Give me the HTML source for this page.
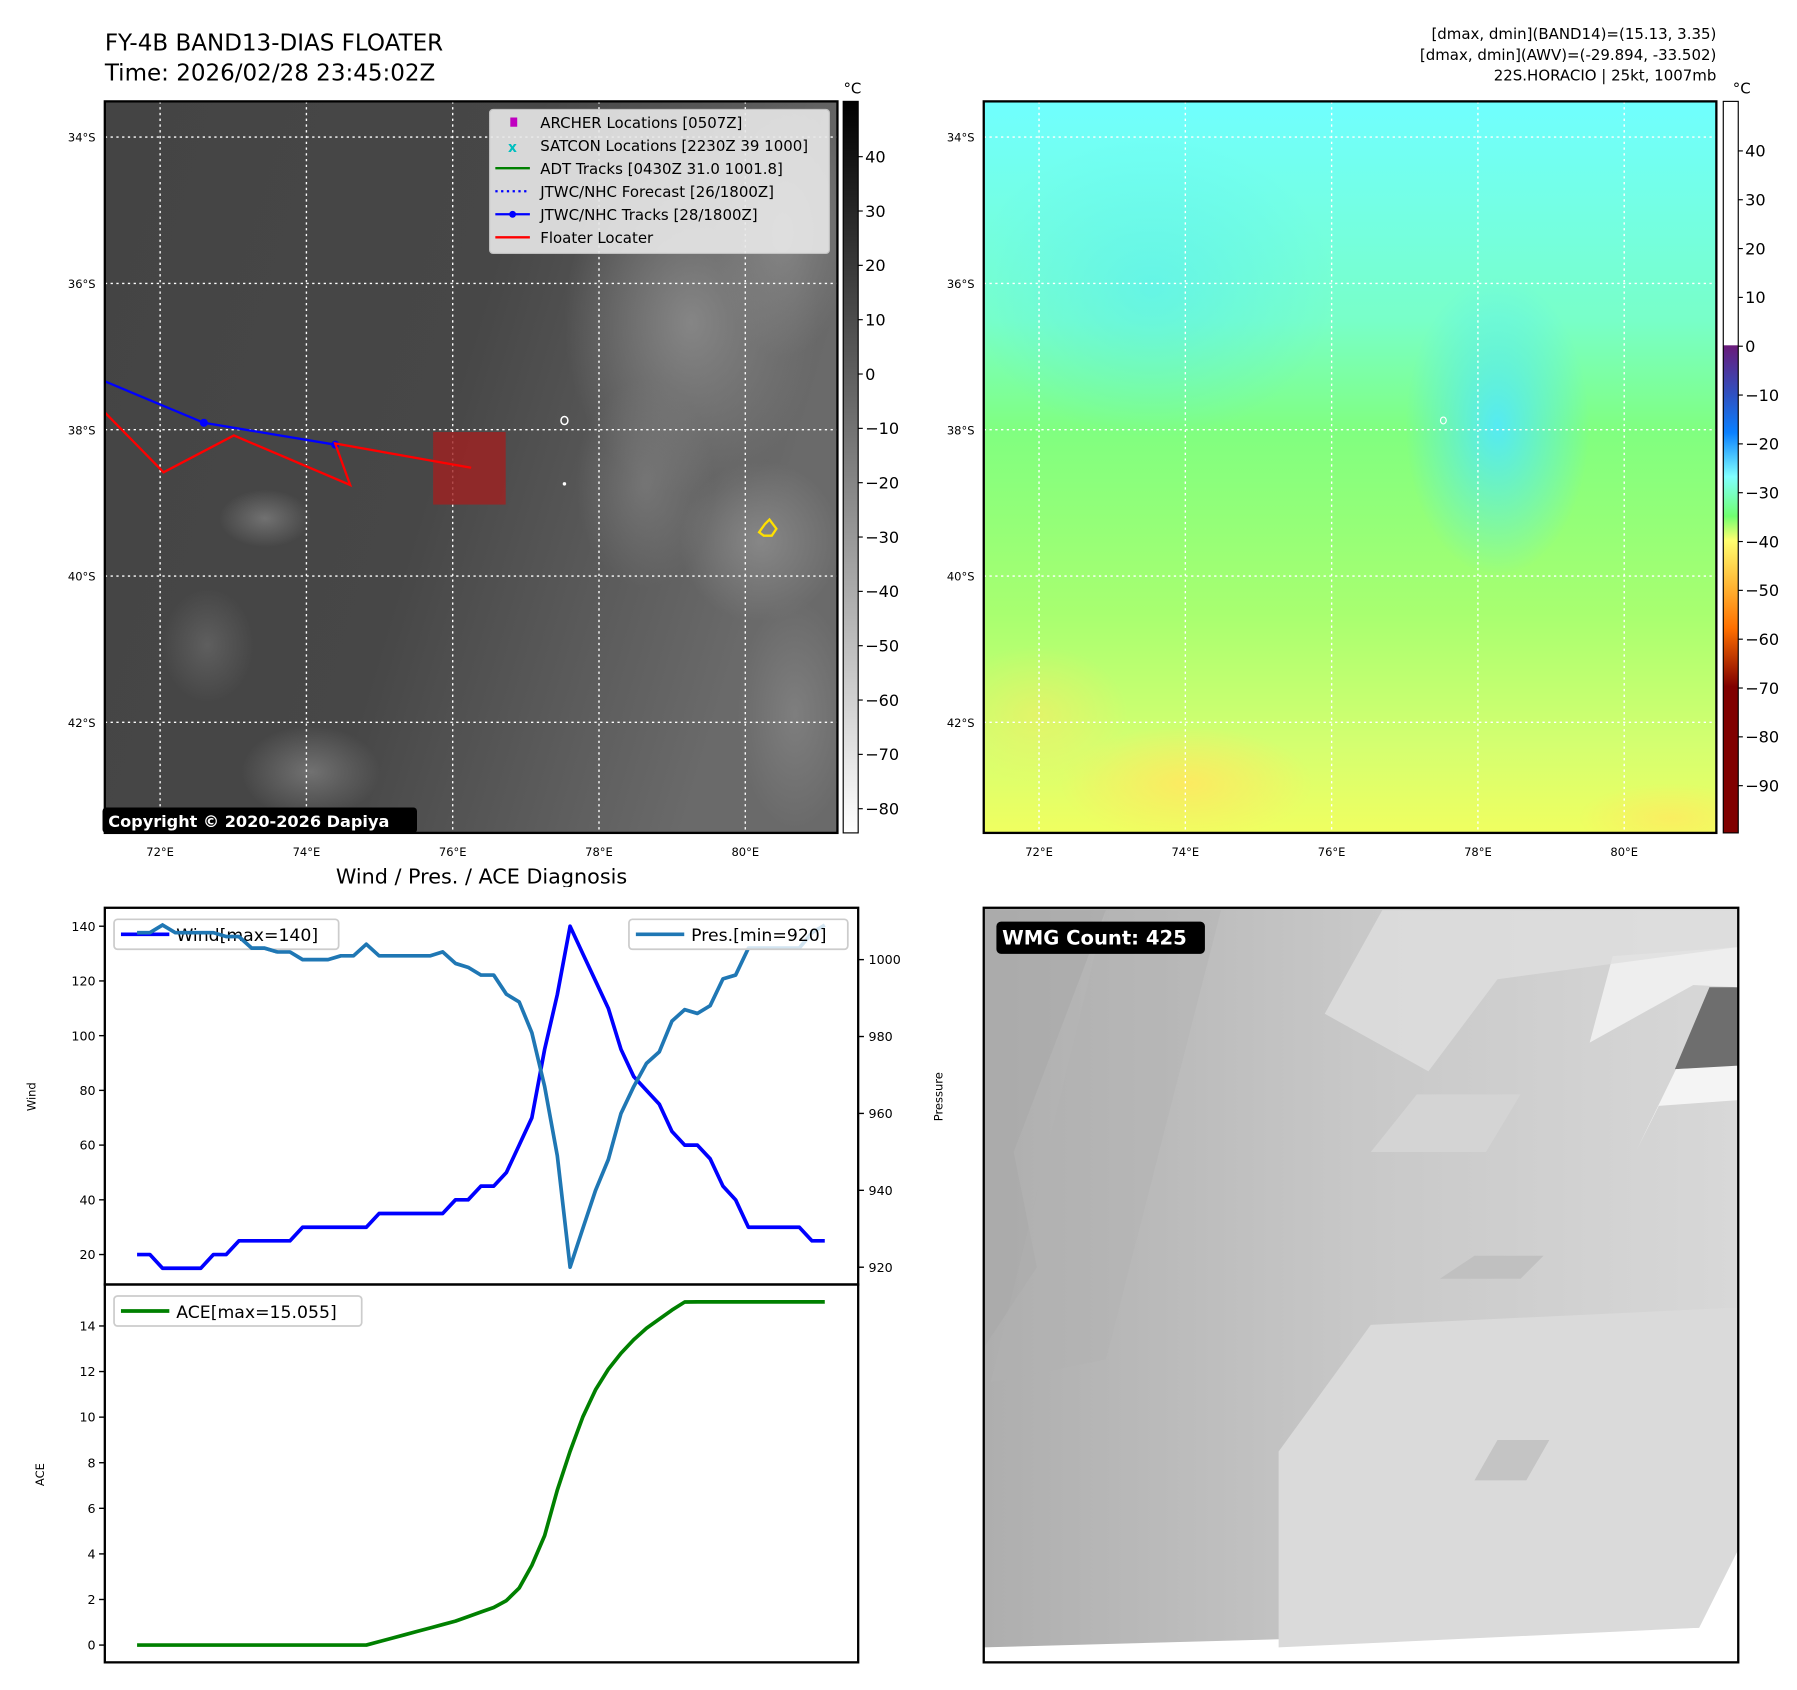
<!DOCTYPE html>
<html><head><meta charset="utf-8"><style>
html,body{margin:0;padding:0;background:#fff;}
svg{display:block;font-family:"DejaVu Sans","Liberation Sans",sans-serif;}
</style></head><body>
<svg id="fig" width="1797" height="1690" viewBox="0 0 1560 1467" preserveAspectRatio="none" xmlns="http://www.w3.org/2000/svg">
<defs>
  <linearGradient id="gcbar" x1="0" y1="0" x2="0" y2="1">
    <stop offset="0" stop-color="#000"/><stop offset="1" stop-color="#fff"/>
  </linearGradient>
  <linearGradient id="ccbar" x1="0" y1="0" x2="0" y2="1">
    <stop offset="0" stop-color="#fff"/><stop offset="0.333" stop-color="#fff"/>
    <stop offset="0.334" stop-color="#6a1b7a"/><stop offset="0.40" stop-color="#3050c0"/>
    <stop offset="0.453" stop-color="#0a80ff"/><stop offset="0.513" stop-color="#80ffff"/>
    <stop offset="0.567" stop-color="#70ff70"/><stop offset="0.60" stop-color="#ffff70"/>
    <stop offset="0.667" stop-color="#ffb030"/><stop offset="0.72" stop-color="#ff7000"/>
    <stop offset="0.80" stop-color="#800000"/><stop offset="1" stop-color="#800000"/>
  </linearGradient>
  <linearGradient id="irbg" x1="0" y1="0" x2="1" y2="0.3">
    <stop offset="0" stop-color="#444"/><stop offset="0.55" stop-color="#474747"/><stop offset="1" stop-color="#6a6a6a"/>
  </linearGradient>
  <radialGradient id="cloud"><stop offset="0" stop-color="#8a8a8a" stop-opacity="0.9"/><stop offset="1" stop-color="#8a8a8a" stop-opacity="0"/></radialGradient>
  <linearGradient id="colbg" x1="0" y1="0" x2="0" y2="1">
    <stop offset="0" stop-color="#70ffff"/><stop offset="0.3" stop-color="#78ffc8"/>
    <stop offset="0.45" stop-color="#80ff80"/><stop offset="0.7" stop-color="#a8ff70"/>
    <stop offset="0.88" stop-color="#d4ff70"/><stop offset="1" stop-color="#f0ff60"/>
  </linearGradient>
  <radialGradient id="cyanblob"><stop offset="0" stop-color="#50e8ff" stop-opacity="0.9"/><stop offset="1" stop-color="#50e8ff" stop-opacity="0"/></radialGradient>
  <radialGradient id="yelblob"><stop offset="0" stop-color="#ffe860" stop-opacity="0.9"/><stop offset="1" stop-color="#ffe860" stop-opacity="0"/></radialGradient>
  <linearGradient id="wmgbg" x1="0" y1="0" x2="1" y2="0">
    <stop offset="0" stop-color="#aeaeae"/><stop offset="0.5" stop-color="#c8c8c8"/><stop offset="1" stop-color="#d8d8d8"/>
  </linearGradient>
  <clipPath id="clipL"><rect x="91" y="88" width="636" height="635"/></clipPath>
  <clipPath id="clipR"><rect x="854" y="88" width="636" height="635"/></clipPath>
</defs>

<text x="91" y="44" font-size="20">FY-4B BAND13-DIAS FLOATER</text>
<text x="91" y="70" font-size="20">Time: 2026/02/28 23:45:02Z</text>
<g font-size="13" text-anchor="end">
  <text x="1490" y="34">[dmax, dmin](BAND14)=(15.13, 3.35)</text>
  <text x="1490" y="52">[dmax, dmin](AWV)=(-29.894, -33.502)</text>
  <text x="1490" y="70">22S.HORACIO | 25kt, 1007mb</text>
</g>

<g clip-path="url(#clipL)">
  <rect x="91" y="88" width="636" height="635" fill="url(#irbg)"/>
  <ellipse cx="600" cy="280" rx="110" ry="150" fill="url(#cloud)"/>
  <ellipse cx="680" cy="200" rx="60" ry="110" fill="url(#cloud)"/>
  <ellipse cx="660" cy="470" rx="70" ry="70" fill="url(#cloud)"/>
  <ellipse cx="560" cy="420" rx="60" ry="90" fill="url(#cloud)" opacity="0.6"/>
  <ellipse cx="690" cy="620" rx="50" ry="100" fill="url(#cloud)" opacity="0.7"/>
  <ellipse cx="230" cy="450" rx="40" ry="25" fill="url(#cloud)" opacity="0.7"/>
  <ellipse cx="270" cy="670" rx="60" ry="40" fill="url(#cloud)" opacity="0.7"/>
  <ellipse cx="180" cy="560" rx="40" ry="50" fill="url(#cloud)" opacity="0.4"/>
</g>
<g id="gridL" clip-path="url(#clipL)"></g>
<g clip-path="url(#clipL)">
  <rect x="376" y="375" width="63" height="63" fill="#a02020" opacity="0.8"/>
  <polyline points="91,331 177,367 291,386" fill="none" stroke="#00f" stroke-width="2"/>
  <circle cx="177" cy="367" r="3.5" fill="#00f"/><circle cx="291" cy="386" r="3.5" fill="#00f"/>
  <polyline points="91,358 142,410 203,378 304,421 291,385 409,406" fill="none" stroke="#f00" stroke-width="2"/>
  <ellipse cx="490" cy="365" rx="3" ry="3.5" fill="none" stroke="#fff" stroke-width="1.3"/>
  <circle cx="490" cy="420" r="1.5" fill="#fff"/>
  <path d="M659,462 L664,455 L668,451 L671,455 L674,459 L670,465 L663,465 Z" fill="none" stroke="#ffe000" stroke-width="2"/>
</g>
<rect x="91" y="88" width="636" height="635" fill="none" stroke="#000" stroke-width="2"/>
<rect x="89" y="701" width="273" height="22" rx="3" fill="#000"/>
<text x="94" y="718" font-size="14" font-weight="bold" fill="#fff">Copyright © 2020-2026 Dapiya</text>

<g font-size="13">
  <rect x="425" y="95" width="295" height="125" rx="3" fill="#e8e8e8" opacity="0.9" stroke="#ccc"/>
  <rect x="443" y="102" width="6" height="8" fill="#c000c0"/>
  <text x="469" y="111">ARCHER Locations [0507Z]</text>
  <text x="441" y="132" font-size="12" fill="#00bfbf" font-weight="bold">x</text>
  <text x="469" y="131">SATCON Locations [2230Z 39 1000]</text>
  <line x1="430" y1="146" x2="460" y2="146" stroke="green" stroke-width="2"/>
  <text x="469" y="151">ADT Tracks [0430Z 31.0 1001.8]</text>
  <line x1="430" y1="166" x2="460" y2="166" stroke="#00f" stroke-width="2" stroke-dasharray="2,3"/>
  <text x="469" y="171">JTWC/NHC Forecast [26/1800Z]</text>
  <line x1="430" y1="186" x2="460" y2="186" stroke="#00f" stroke-width="2"/><circle cx="445" cy="186" r="3" fill="#00f"/>
  <text x="469" y="191">JTWC/NHC Tracks [28/1800Z]</text>
  <line x1="430" y1="206" x2="460" y2="206" stroke="#f00" stroke-width="2"/>
  <text x="469" y="211">Floater Locater</text>
</g>

<rect x="732" y="88" width="13" height="635" fill="url(#gcbar)" stroke="#000" stroke-width="1"/>
<text x="740" y="81" font-size="13" text-anchor="middle">°C</text>
<g id="cbarL" font-size="14"></g>

<g clip-path="url(#clipR)">
  <rect x="854" y="88" width="636" height="635" fill="url(#colbg)"/>
  <ellipse cx="1300" cy="370" rx="80" ry="130" fill="url(#cyanblob)"/>
  <ellipse cx="1000" cy="250" rx="160" ry="130" fill="url(#cyanblob)" opacity="0.5"/>
  <ellipse cx="1030" cy="680" rx="110" ry="50" fill="url(#yelblob)"/>
  <ellipse cx="1450" cy="710" rx="80" ry="30" fill="url(#yelblob)" opacity="0.8"/>
  <ellipse cx="900" cy="620" rx="80" ry="60" fill="url(#yelblob)" opacity="0.5"/>
  <ellipse cx="1253" cy="365" rx="2.5" ry="3" fill="none" stroke="#fff" stroke-width="1"/>
</g>
<g id="gridR" clip-path="url(#clipR)"></g>
<rect x="854" y="88" width="636" height="635" fill="none" stroke="#000" stroke-width="2"/>
<rect x="1496" y="88" width="13" height="635" fill="url(#ccbar)" stroke="#000" stroke-width="1"/>
<text x="1512" y="81" font-size="13" text-anchor="middle">°C</text>
<g id="cbarR" font-size="14"></g>
<g id="mapTicks" font-size="10"></g>

<text x="418" y="767" font-size="18" text-anchor="middle">Wind / Pres. / ACE Diagnosis</text>
<g id="diag"></g>

<g>
  <rect x="854" y="788" width="655" height="655" fill="url(#wmgbg)"/>
  <polygon points="854,1443 854,1430 1475,1413 1509,1345 1509,1443" fill="#fff"/>
  <polygon points="1454,928 1484,857 1509,857 1509,926" fill="#6e6e6e"/>
  <polygon points="1420,1000 1440,960 1509,955 1509,925 1455,928 1420,1000" fill="#f4f4f4"/>
  <polygon points="1380,905 1470,855 1509,857 1509,822 1400,830" fill="#eeeeee"/>
  <polygon points="1150,880 1200,790 1509,790 1509,822 1300,850 1240,930" fill="#dedede" opacity="0.8"/>
  <polygon points="1110,1260 1190,1150 1509,1135 1509,1345 1475,1413 1110,1430" fill="#dadada"/>
  <polygon points="854,1170 854,790 960,790 880,1000 900,1100" fill="#a8a8a8" opacity="0.6"/>
  <polygon points="960,790 1060,790 960,1180 860,1200" fill="#b2b2b2" opacity="0.4"/>
  <polygon points="1250,1110 1280,1090 1340,1090 1320,1110" fill="#c0c0c0"/>
  <polygon points="1280,1285 1300,1250 1345,1250 1325,1285" fill="#c4c4c4"/>
  <polygon points="1190,1000 1230,950 1320,950 1290,1000" fill="#d4d4d4"/>
  <rect x="854" y="788" width="655" height="655" fill="none" stroke="#000" stroke-width="2"/>
  <rect x="865" y="800" width="181" height="28" rx="4" fill="#000"/>
  <text x="870" y="820" font-size="17" font-weight="bold" fill="#fff">WMG Count: 425</text>
</g>
</svg>
<script>
const windValues = [20,20,15,15,15,15,20,20,25,25,25,25,25,30,30,30,30,30,30,35,35,35,35,35,35,40,40,45,45,50,60,70,95,115,140,130,120,110,95,85,80,75,65,60,60,55,45,40,30,30,30,30,30,25,25];
const presValues = [1007,1007,1009,1007,1007,1007,1007,1006,1006,1003,1003,1002,1002,1000,1000,1000,1001,1001,1004,1001,1001,1001,1001,1001,1002,999,998,996,996,991,989,981,967,949,920,930,940,948,960,967,973,976,984,987,986,988,995,996,1003,1003,1003,1003,1003,1007,1009];
const aceValues = [0,0,0,0,0,0,0,0,0,0,0,0,0,0,0,0,0,0,0,0.15,0.3,0.45,0.6,0.75,0.9,1.05,1.25,1.45,1.65,1.95,2.5,3.5,4.8,6.8,8.5,10,11.2,12.1,12.8,13.4,13.9,14.3,14.7,15.05,15.055,15.055,15.055,15.055,15.055,15.055,15.055,15.055,15.055,15.055,15.055];
const windTicks = [20,40,60,80,100,120,140];
const presTicks = [920,940,960,980,1000];
const aceTicks = [0,2,4,6,8,10,12,14];
const lonTicks = [72,74,76,78,80];
const latTicks = [34,36,38,40,42];
const irCbarTicks = [40,30,20,10,0,-10,-20,-30,-40,-50,-60,-70,-80];
const awvCbarTicks = [40,30,20,10,0,-10,-20,-30,-40,-50,-60,-70,-80,-90];

const NS='http://www.w3.org/2000/svg';
function mk(tag, attrs, parent){const e=document.createElementNS(NS,tag);for(const k in attrs)e.setAttribute(k,attrs[k]);parent.appendChild(e);return e;}

const xIdx = i => 119 + i*(716-119)/(windValues.length-1);
const yWind = v => 1089 + (v-20)*(804-1089)/120;
const yPres = v => 1100 + (v-920)*(833-1100)/80;
const yAce = v => 1428 + v*(1151-1428)/14;
const xLon = lon => 139 + (lon-72)*63.5;
const yLat = lat => 119 + (lat-34)*63.5;
const yIr = v => 136 + (40-v)*(702-136)/120;
const yAwv = v => 131 + (40-v)*(682-131)/130;

const gL=document.getElementById('gridL'), gR=document.getElementById('gridR'), mt=document.getElementById('mapTicks');
[[gL,91,727],[gR,854,1490]].forEach(([g,x0,x1])=>{
  const off = x0-91;
  lonTicks.forEach(lon=>{
    const ln=mk('line',{x1:xLon(lon)+off,x2:xLon(lon)+off,y1:88,y2:723,stroke:'#fff','stroke-width':1.2,'stroke-dasharray':'2,3'},g);
    
    
    const t=mk('text',{x:xLon(lon)+off,y:743,'text-anchor':'middle'},mt);t.textContent=lon+'°E';
    
    
  });
  latTicks.forEach(lat=>{
    const ln=mk('line',{x1:x0,x2:x1,y1:yLat(lat),y2:yLat(lat),stroke:'#fff','stroke-width':1.2,'stroke-dasharray':'2,3'},g);
    
    
    const t=mk('text',{x:x0-8,y:yLat(lat)+4,'text-anchor':'end'},mt);t.textContent=lat+'°S';
    
    
  });
});
const cL=document.getElementById('cbarL');
irCbarTicks.forEach(v=>{
  mk('line',{x1:745,x2:749,y1:yIr(v),y2:yIr(v),stroke:'#000'},cL);
  const t=mk('text',{x:751,y:yIr(v)+5},cL);t.textContent=(v<0?'\u2212':'')+Math.abs(v);
  
  
});
const cR=document.getElementById('cbarR');
awvCbarTicks.forEach(v=>{
  mk('line',{x1:1509,x2:1513,y1:yAwv(v),y2:yAwv(v),stroke:'#000'},cR);
  const t=mk('text',{x:1515,y:yAwv(v)+5},cR);t.textContent=(v<0?'\u2212':'')+Math.abs(v);
  
  
});

const d=document.getElementById('diag');
mk('rect',{x:91,y:788,width:654,height:655,fill:'#fff'},d);
function pts(arr,fy){return arr.map((v,i)=>xIdx(i).toFixed(1)+','+fy(v).toFixed(1)).join(' ');}
const wl=mk('polyline',{points:pts(windValues,yWind),fill:'none',stroke:'#0000ff','stroke-width':3.2,'stroke-linejoin':'round'},d);


const pl=mk('polyline',{points:pts(presValues,yPres),fill:'none',stroke:'#1f77b4','stroke-width':3.2,'stroke-linejoin':'round'},d);


const al=mk('polyline',{points:pts(aceValues,yAce),fill:'none',stroke:'#008000','stroke-width':3.2,'stroke-linejoin':'round'},d);


mk('rect',{x:91,y:770,width:654,height:17,fill:'#fff'},d);
mk('rect',{x:91,y:788,width:654,height:327,fill:'none',stroke:'#000','stroke-width':2},d);
mk('rect',{x:91,y:1115,width:654,height:328,fill:'none',stroke:'#000','stroke-width':2},d);
function ytick(v,fy,left,label){
  const y=fy(v);
  if(left){mk('line',{x1:86,x2:91,y1:y,y2:y,stroke:'#000','stroke-width':1.2},d);}
  else{mk('line',{x1:745,x2:750,y1:y,y2:y,stroke:'#000','stroke-width':1.2},d);}
  const t=mk('text',{x:left?83:754,y:y+4,'font-size':11,'text-anchor':left?'end':'start'},d);t.textContent=v;
  
  
}
windTicks.forEach(v=>ytick(v,yWind,true,'wind-tick-label'));
presTicks.forEach(v=>ytick(v,yPres,false,'pressure-tick-label'));
aceTicks.forEach(v=>ytick(v,yAce,true,'ace-tick-label'));
let t;
t=mk('text',{x:31,y:952,'font-size':10,'text-anchor':'middle',transform:'rotate(-90 31 952)'},d);t.textContent='Wind';


t=mk('text',{x:818,y:952,'font-size':10,'text-anchor':'middle',transform:'rotate(-90 818 952)'},d);t.textContent='Pressure';


t=mk('text',{x:38,y:1280,'font-size':10,'text-anchor':'middle',transform:'rotate(-90 38 1280)'},d);t.textContent='ACE';


function legend(x,y,w,color,label,name){
  const g=mk('g',{},d);
  
  
  mk('rect',{x:x,y:y,width:w,height:26,rx:3,fill:'#fff','fill-opacity':0.8,stroke:'#ccc','stroke-width':1.5},g);
  mk('line',{x1:x+6,x2:x+48,y1:y+13,y2:y+13,stroke:color,'stroke-width':3.2},g);
  const tt=mk('text',{x:x+54,y:y+19,'font-size':15},g);tt.textContent=label;
}
legend(99,798,195,'#0000ff','Wind[max=140]','wind-legend');
const pl2=mk('polyline',{points:pts(presValues.slice(0,12),yPres),fill:'none',stroke:'#1f77b4','stroke-width':3.2},d);


legend(546,798,190,'#1f77b4','Pres.[min=920]','pressure-legend');
legend(99,1125,215,'#008000','ACE[max=15.055]','ace-legend');
</script>
</body></html>
